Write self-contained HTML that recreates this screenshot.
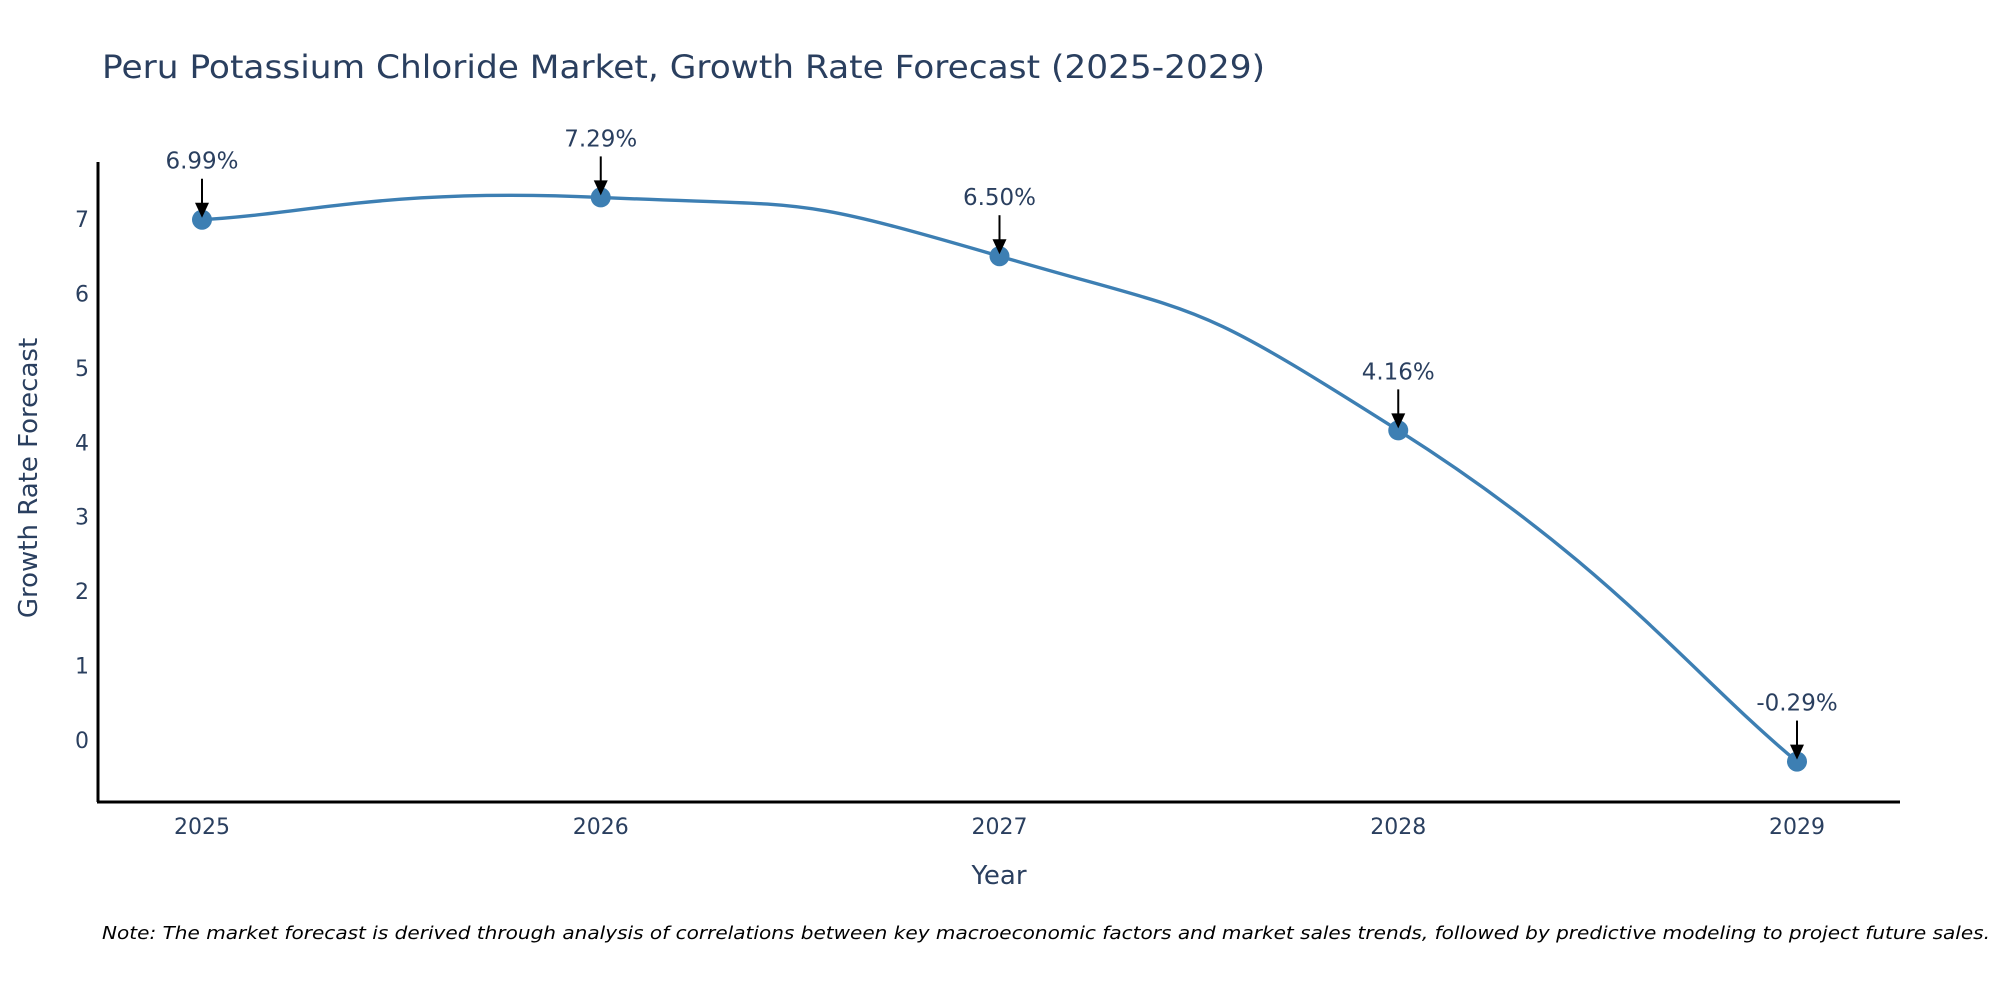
<!DOCTYPE html>
<html><head><meta charset="utf-8"><style>
html,body{margin:0;padding:0;background:#fff;}
svg{display:block;font-family:"DejaVu Sans","Liberation Sans",sans-serif;}
</style></head><body>
<svg id="chart" width="2000" height="1000" viewBox="0 0 2000 1000">
<text x="102" y="78" font-size="32" fill="#2a3f5f" textLength="1163" lengthAdjust="spacingAndGlyphs">Peru Potassium Chloride Market, Growth Rate Forecast (2025-2029)</text>
<g id="yticks"></g>
<g id="xticks"></g>
<line x1="98" y1="162" x2="98" y2="802" stroke="#000" stroke-width="3"/>
<line x1="97" y1="802" x2="1900" y2="802" stroke="#000" stroke-width="3"/>
<text transform="translate(37,478) rotate(-90)" text-anchor="middle" font-size="26" fill="#2a3f5f">Growth Rate Forecast</text>
<text x="999" y="884" text-anchor="middle" font-size="26" fill="#2a3f5f">Year</text>
<g id="series"></g>
<text x="102" y="939" font-size="18" font-style="italic" fill="#000" textLength="1888" lengthAdjust="spacingAndGlyphs">Note: The market forecast is derived through analysis of correlations between key macroeconomic factors and market sales trends, followed by predictive modeling to project future sales.</text>
</svg>
<script>
const years = ["2025","2026","2027","2028","2029"];
const values = [6.99, 7.29, 6.50, 4.16, -0.29];
const labels = ["6.99%","7.29%","6.50%","4.16%","-0.29%"];
const yTicks = [0,1,2,3,4,5,6,7];

const NS = "http://www.w3.org/2000/svg";
function xPos(i){ return 202 + i*398.75; }
function yPos(v){ return 740 - v*74.43; }
function mk(tag, attrs, parent){ const e=document.createElementNS(NS,tag); for(const k in attrs) e.setAttribute(k, attrs[k]); parent.appendChild(e); return e; }

const yt = document.getElementById('yticks');
yTicks.forEach(t=>{
  const e = mk('text',{x:89,y:yPos(t)+8,'text-anchor':'end','font-size':22,fill:'#2a3f5f'},yt);
  
  
  e.textContent = t;
});
const xt = document.getElementById('xticks');
years.forEach((y,i)=>{
  const e = mk('text',{x:xPos(i),y:834,'text-anchor':'middle','font-size':22,fill:'#2a3f5f'},xt);
  
  
  e.textContent = y;
});

const g = document.getElementById('series');
const pts = values.map((v,i)=>[xPos(i), yPos(v)]);
let d = "M"+pts[0][0]+","+pts[0][1];
const s = 0.8;
for(let i=0;i<pts.length-1;i++){
  const p0 = pts[Math.max(0,i-1)], p1 = pts[i], p2 = pts[i+1], p3 = pts[Math.min(pts.length-1,i+2)];
  const c1 = [p1[0]+(p2[0]-p0[0])*s/3, p1[1]+(p2[1]-p0[1])*s/3];
  const c2 = [p2[0]-(p3[0]-p1[0])*s/3, p2[1]-(p3[1]-p1[1])*s/3];
  d += " C"+c1[0]+","+c1[1]+" "+c2[0]+","+c2[1]+" "+p2[0]+","+p2[1];
}
const line = mk('path',{d:d,fill:'none',stroke:'#3d7fb3','stroke-width':3.4},g);



pts.forEach((p,i)=>{
  const c = mk('circle',{cx:p[0],cy:p[1],r:10,fill:'#3d7fb3'},g);
  
  
  const a = mk('line',{x1:p[0],y1:p[1]-41,x2:p[0],y2:p[1]-14,stroke:'#000','stroke-width':2},g);
  
  
  const h = mk('polygon',{points:(p[0]-7)+","+(p[1]-17)+" "+(p[0]+7)+","+(p[1]-17)+" "+p[0]+","+(p[1]-2),fill:'#000'},g);
  
  
  const t = mk('text',{x:p[0],y:p[1]-51,'text-anchor':'middle','font-size':23,fill:'#2a3f5f'},g);
  
  
  t.textContent = labels[i];
});
</script>
</body></html>
